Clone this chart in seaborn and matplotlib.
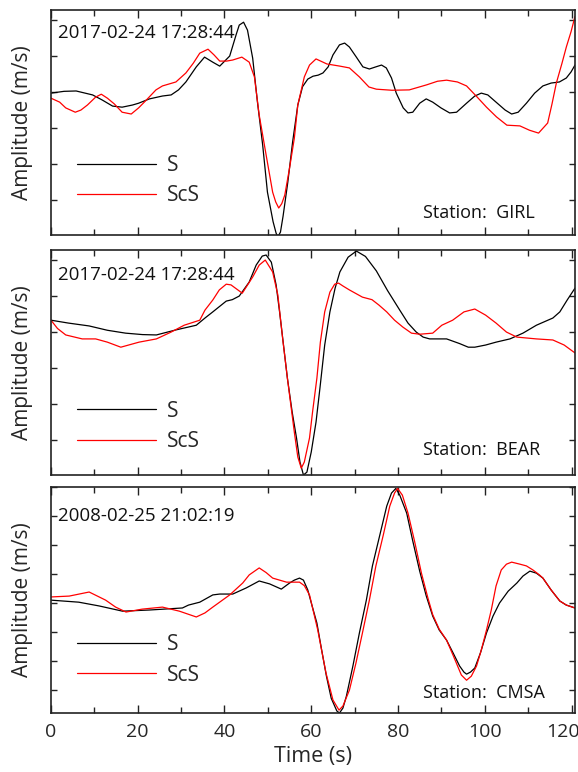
import numpy as np
import pandas as pd
import matplotlib
matplotlib.use("Agg")
import matplotlib.pyplot as plt
import seaborn as sns
from matplotlib.ticker import MultipleLocator
from matplotlib.transforms import ScaledTranslation

# ---------------- data (time in s, amplitude in arbitrary normalized units) ----------------
girl_s_t = [0, 3, 5.8, 9.6, 11.8, 14.2, 16.4, 18.8, 20.2, 22.7, 25.7, 27.7, 29.4, 31.1, 33.5, 35.4,
            37.3, 38.9, 41.2, 42.7, 43.4, 44.4, 45.3, 46.5, 47.6, 48.8, 49.9, 51.2, 51.9, 52.3, 52.9,
            53.5, 54.6, 55.7, 56.9, 58.0, 59.2, 60.4, 61.6, 62.7, 63.9, 65.0, 66.5, 67.7, 68.8, 70.4,
            71.9, 73.4, 74.9, 76.2, 77.3, 78.5, 79.6, 81.2, 82.3, 83.4, 85.0, 86.5, 88.0, 89.9, 91.9,
            93.5, 95.8, 97.7, 99.2, 100.7, 102.6, 104.7, 106.2, 107.7, 109.6, 111.5, 113.4, 115.3,
            117.2, 118.8, 119.9, 120.8]
girl_s_a = [0.97, 1.02, 1.03, 0.92, 0.78, 0.61, 0.58, 0.64, 0.69, 0.81, 0.89, 0.92, 1.06, 1.28, 1.7, 1.97,
            1.83, 1.72, 2.0, 2.6, 2.86, 2.94, 2.72, 1.94, 0.72, -0.47, -1.78, -2.6, -2.92, -3.02, -2.89,
            -2.45, -1.5, -0.39, 0.64, 1.15, 1.36, 1.44, 1.47, 1.53, 1.7, 2.03, 2.31, 2.36, 2.25, 1.97,
            1.7, 1.64, 1.7, 1.75, 1.67, 1.39, 0.97, 0.56, 0.42, 0.44, 0.69, 0.81, 0.72, 0.56, 0.42,
            0.44, 0.69, 0.89, 0.97, 0.92, 0.72, 0.5, 0.39, 0.44, 0.69, 0.97, 1.17, 1.25,
            1.28, 1.39, 1.56, 1.75]
girl_scs_t = [0, 2, 3.4, 5.6, 6.9, 8.4, 10.3, 11.6, 13.0, 14.6, 16.4, 18.5, 20.2, 22.0, 24.2, 25.7,
              28.8, 31.1, 32.8, 34.3, 36.2, 37.6, 38.9, 40.5, 41.9, 44.0, 45.7, 46.9, 48.0, 49.6, 51.1,
              51.8, 52.5, 53.2, 53.9, 55.0, 56.1, 56.9, 58.4, 59.6, 61.1, 63.6, 66.6, 68.8, 71.1, 73.3,
              75.0, 78.6, 82.6, 86.6, 89.1, 91.2, 93.7, 95.8, 98.1, 100.4, 102.7, 105.1, 108.1, 110.3,
              112.4, 114.5, 115.5, 116.5, 117.8, 118.8, 119.9, 120.8]
girl_scs_a = [0.83, 0.72, 0.56, 0.44, 0.5, 0.64, 0.86, 0.94, 0.83, 0.67, 0.44, 0.39, 0.56, 0.78, 1.06, 1.17,
              1.28, 1.53, 1.8, 2.08, 2.19, 2.03, 1.86, 1.86, 1.89, 1.97, 1.83, 1.42, 0.36, -0.75, -1.78,
              -2.05, -2.22, -2.1, -1.86, -1.11, -0.28, 0.64, 1.42, 1.75, 1.92, 1.78, 1.72, 1.67, 1.42, 1.14,
              1.08, 1.05, 1.06, 1.2, 1.3, 1.33, 1.28, 1.17, 0.88, 0.58, 0.31, 0.08, 0.06, -0.06,
              -0.14, 0.14, 0.67, 1.25, 1.8, 2.25, 2.68, 3.1]

bear_s_t = [0, 4, 8.8, 13, 17.2, 21.1, 24.3, 28.8, 33.5, 35.5, 37.3, 40.4, 41.8, 43.4, 45.7, 47.3,
            48.7, 49.6, 50.8, 51.9, 52.7, 53.6, 54.5, 55.6, 56.6, 57.4, 58.2, 59.0, 60.0, 61.1, 62.0,
            63.1, 64.3, 65.5, 66.6, 68.5, 70.4, 72.5, 75.0, 77.6, 80.4, 82.3, 84.2, 85.8, 87.3, 91.2,
            94.2, 96.2, 97.7, 100.2, 102.6, 105.8, 108.8, 111.9, 115.7, 117.3, 119.0, 120.8]
bear_s_a = [1.33, 1.25, 1.17, 1.05, 0.97, 0.93, 0.92, 1.06, 1.19, 1.39, 1.56, 1.86, 1.9, 2.0, 2.39, 2.86,
            3.11, 3.14, 2.94, 2.31, 1.56, 0.64, -0.28, -1.22, -1.94, -2.61, -2.97, -2.89, -2.33, -1.5, -0.56,
            0.64, 1.56, 2.22, 2.67, 3.08, 3.25, 3.1, 2.7, 2.15, 1.61, 1.25, 1.0, 0.86, 0.81, 0.81,
            0.68, 0.58, 0.58, 0.64, 0.72, 0.81, 0.97, 1.19, 1.39, 1.56, 1.89, 2.22]
bear_scs_t = [0, 1.5, 3.4, 7.2, 10.3, 13, 16.1, 20.3, 24.3, 27.7, 30.7, 34.3, 35.5, 37.3, 38.8, 40.4,
              41.5, 44.1, 46.5, 48.0, 49.4, 51.1, 52.3, 53.4, 54.5, 56.1, 56.9, 57.7, 58.4, 59.6, 60.3,
              61.3, 62.1, 63.1, 64.3, 65.4, 66.3, 67.3, 68.8, 71.8, 74.0, 75.6, 77.4, 79.2, 81.1, 83.1,
              85.0, 88.0, 90.1, 92.6, 95.2, 97.7, 100.2, 102.6, 105.0, 107.4, 111.9, 115.7, 118.3, 120.8]
bear_scs_a = [1.33, 1.1, 0.92, 0.81, 0.81, 0.72, 0.58, 0.72, 0.81, 1.0, 1.19, 1.33, 1.61, 1.89, 2.17, 2.33,
              2.31, 2.08, 2.53, 2.86, 3.0, 2.67, 2.03, 0.83, -0.28, -1.78, -2.47, -2.78, -2.61, -1.94, -1.22,
              -0.28, 0.72, 1.56, 2.11, 2.33, 2.36, 2.28, 2.17, 1.97, 1.9, 1.75, 1.56, 1.33, 1.14, 0.97,
              0.94, 0.97, 1.19, 1.33, 1.56, 1.64, 1.47, 1.25, 1.0, 0.86, 0.81, 0.78, 0.64, 0.42]

cmsa_s_t = [0, 6.4, 11.1, 16.5, 22.7, 30.3, 31.7, 34.3, 37.3, 38.9, 41.9, 45.0, 48.0, 50.4, 53.1, 55.0,
            56.1, 57.3, 58.2, 59.2, 60.2, 61.3, 62.4, 63.5, 64.6, 65.9, 66.5, 67.3, 68.1, 69.6, 71.1,
            72.7, 74.1, 75.8, 77.4, 78.5, 79.5, 80.4, 82.0, 83.4, 85.0, 86.5, 88.0, 89.5, 91.2, 92.7,
            94.2, 95.2, 95.8, 96.7, 97.7, 99.0, 100.4, 101.9, 103.4, 105.4, 107.4, 108.8, 110.4,
            111.9, 113.4, 115.3, 117.3, 118.8, 120.8]
cmsa_s_a = [0.1, 0.03, -0.1, -0.28, -0.24, -0.17, -0.07, 0.03, 0.28, 0.31, 0.31, 0.52, 0.76, 0.66, 0.48, 0.69,
            0.79, 0.86, 0.79, 0.45, -0.1, -0.69, -1.62, -2.52, -3.28, -3.72, -3.79, -3.62, -3.21, -2.17, -1.03,
            0.1, 1.28, 2.34, 3.34, 3.79, 3.95, 3.72, 3.1, 2.14, 1.1, 0.25, -0.45, -0.93, -1.28, -1.72,
            -2.17, -2.38, -2.45, -2.38, -2.24, -1.72, -1.03, -0.45, 0.0, 0.41, 0.69, 0.93, 1.1,
            1.03, 0.86, 0.45, 0.07, -0.07, -0.17]
cmsa_scs_t = [0, 4.2, 8.8, 12.6, 14.9, 17.3, 21.0, 25.7, 29.6, 33.5, 35.5, 37.3, 41.2, 44.2, 45.7, 48.0,
              49.6, 51.1, 54.3, 57.3, 58.4, 59.6, 61.5, 63.4, 65.0, 66.4, 67.3, 68.8, 70.3, 71.8, 73.4,
              74.9, 76.6, 78.1, 79.2, 79.9, 81.0, 82.3, 83.8, 85.4, 86.9, 88.0, 89.5, 91.2, 92.7, 94.6,
              95.8, 96.9, 98.1, 99.2, 100.4, 101.5, 102.6, 103.8, 105.0, 106.2, 108.1, 109.6, 111.1,
              112.6, 113.4, 115.3, 117.3, 118.8, 120.8]
cmsa_scs_a = [0.21, 0.24, 0.38, 0.1, -0.14, -0.31, -0.21, -0.14, -0.28, -0.48, -0.34, -0.14, 0.28, 0.69, 0.97, 1.21,
              1.05, 0.86, 0.72, 0.72, 0.6, 0.28, -0.93, -2.41, -3.34, -3.69, -3.55, -3.0, -2.07, -1.03, 0.1,
              1.28, 2.34, 3.34, 3.79, 3.95, 3.72, 3.1, 2.14, 1.03, 0.17, -0.4, -0.9, -1.28, -1.8, -2.48,
              -2.66, -2.52, -2.17, -1.62, -0.93, -0.24, 0.59, 1.14, 1.34, 1.41, 1.34, 1.28, 1.14,
              0.97, 0.86, 0.45, 0.07, -0.07, -0.17]

dates = ["2017-02-24 17:28:44", "2017-02-24 17:28:44", "2008-02-25 21:02:19"]
stations = ["GIRL", "BEAR", "CMSA"]
series_names = ["S", "ScS"]
x_ticks = [0, 20, 40, 60, 80, 100, 120]

panels = [
    (girl_s_t, girl_s_a, girl_scs_t, girl_scs_a),
    (bear_s_t, bear_s_a, bear_scs_t, bear_scs_a),
    (cmsa_s_t, cmsa_s_a, cmsa_scs_t, cmsa_scs_a),
]

# ---------------- style ----------------
sns.set_theme(style="ticks")
plt.rcParams["font.family"] = ["Open Sans", "DejaVu Sans"]
plt.rcParams["axes.edgecolor"] = "#222222"
plt.rcParams["axes.linewidth"] = 1.2

fig = plt.figure(figsize=(5.78, 7.72), dpi=100)
boxes = [(0.0882, 0.6956, 0.9066, 0.2915),
         (0.0882, 0.3847, 0.9066, 0.2915),
         (0.0882, 0.0764, 0.9066, 0.2928)]
ylims = [(-2.97, 3.28), (-2.97, 3.28), (-3.79, 4.0)]
date_y = [0.898, 0.889, 0.872]
stat_y = [0.096, 0.111, 0.088]
leg_y = [0.242, 0.216, 0.235]
palette = {"S": "black", "ScS": "#ff0000"}

for i, (st, sa, rt, ra) in enumerate(panels):
    ax = fig.add_axes(boxes[i])
    df = pd.concat([
        pd.DataFrame({"t": st, "a": sa, "wave": series_names[0]}),
        pd.DataFrame({"t": rt, "a": ra, "wave": series_names[1]}),
    ])
    sns.lineplot(data=df, x="t", y="a", hue="wave", palette=palette, estimator=None,
                 linewidth=0.9, ax=ax)
    ax.set_xlim(0, 120.8)
    ax.set_ylim(*ylims[i])
    ax.set_xticks(x_ticks)
    ax.xaxis.set_minor_locator(MultipleLocator(10))
    ax.yaxis.set_major_locator(MultipleLocator(1))
    ax.tick_params(axis="both", which="both", direction="in", top=True, right=True,
                   color="#222222", width=1.0)
    ax.tick_params(axis="x", which="major", length=6, pad=7, labelsize=14)
    ax.tick_params(axis="x", which="minor", length=4)
    ax.tick_params(axis="y", which="major", length=4, labelleft=False)
    if i < 2:
        ax.tick_params(axis="x", which="both", labelbottom=False)
        ax.set_xlabel("")
    else:
        ax.set_xlabel("Time (s)", fontsize=15.5, labelpad=4)
        last = ax.xaxis.get_major_ticks()[-1].label1
        last.set_transform(last.get_transform() + ScaledTranslation(-0.09, 0, fig.dpi_scale_trans))
    ax.set_ylabel("Amplitude (m/s)", fontsize=15)
    ax.yaxis.set_label_coords(-0.035, 0.5)

    ax.text(0.013, date_y[i], dates[i], transform=ax.transAxes, fontsize=13.5,
            ha="left", va="center", color="#111111")
    ax.text(0.71, stat_y[i], "Station:  " + stations[i], transform=ax.transAxes,
            fontsize=13, ha="left", va="center", color="#111111")

    handles, labels = ax.get_legend_handles_labels()
    ax.legend(handles, labels, loc="center left", bbox_to_anchor=(0.05, leg_y[i]),
              frameon=False, fontsize=15, handlelength=3.8, handletextpad=0.5,
              labelspacing=0.45, borderpad=0, borderaxespad=0)

fig.savefig("out.png", dpi=100)
